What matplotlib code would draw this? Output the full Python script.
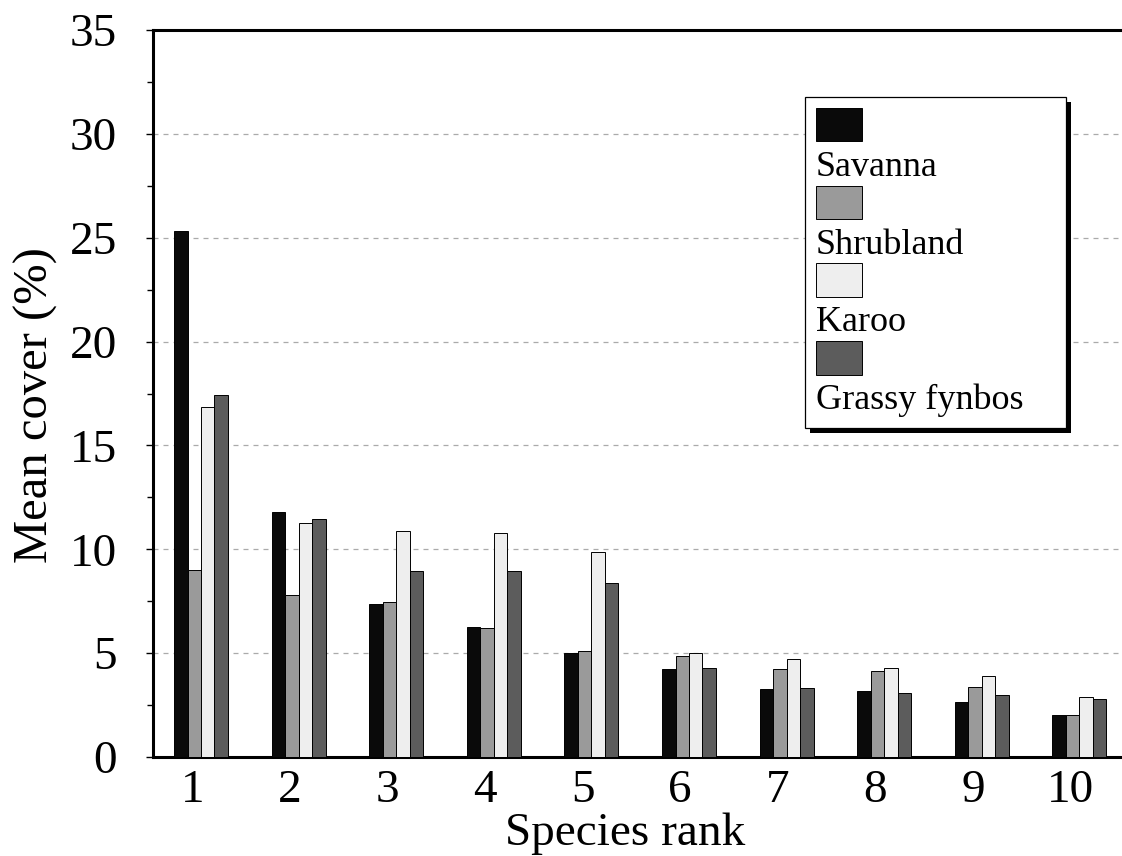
import numpy as np
import matplotlib
matplotlib.use("Agg")
import matplotlib.pyplot as plt
from matplotlib.patches import Rectangle
from matplotlib.transforms import IdentityTransform

plt.rcParams['font.family'] = ['Liberation Serif', 'DejaVu Serif']

# mean cover (%) of the 10 top-ranked species in each vegetation type
ranks = np.arange(1, 11)
savanna = [25.3, 11.8, 7.35, 6.25, 5.0, 4.25, 3.25, 3.2, 2.65, 2.0]
shrubland = [9.0, 7.8, 7.45, 6.2, 5.1, 4.85, 4.25, 4.15, 3.35, 2.0]
karoo = [16.85, 11.25, 10.9, 10.8, 9.85, 5.0, 4.7, 4.28, 3.9, 2.9]
grassy_fynbos = [17.45, 11.45, 8.95, 8.95, 8.4, 4.3, 3.3, 3.08, 3.0, 2.78]

series = [savanna, shrubland, karoo, grassy_fynbos]
names = ['Savanna', 'Shrubland', 'Karoo', 'Grassy fynbos']
colors = ['#0a0a0a', '#9a9a9a', '#eeeeee', '#5c5c5c']

fig = plt.figure(figsize=(11.22, 8.56), dpi=100)
ax = fig.add_axes([153 / 1122, 99 / 856, 980 / 1122, 727 / 856])

w = 0.138
offsets = (np.arange(4) - 1.5) * w
bars = []
for vals, off, c in zip(series, offsets, colors):
    b = ax.bar(ranks + off, vals, width=w, color=c, edgecolor='black',
               linewidth=0.7, zorder=3)
    bars.append(b)

ax.set_xlim(0.508, 10.549)
ax.set_ylim(0, 35)
ax.set_yticks(np.arange(0, 36, 5))
ax.set_yticks(np.arange(2.5, 35, 5), minor=True)
ax.set_xticks(ranks - 0.09)
ax.set_xticklabels([str(r) for r in ranks])
ax.tick_params(axis='x', length=0, pad=9, labelsize=34)
ax.tick_params(axis='y', which='major', direction='out', length=5, width=1,
               pad=21, labelsize=34)
ax.tick_params(axis='y', which='minor', direction='out', length=4, width=1)

ax.yaxis.grid(True, linestyle=(0, (4, 4)), color='#aaaaaa', linewidth=0.9,
              zorder=0)
ax.set_axisbelow(True)

for s in ['left', 'top', 'bottom']:
    ax.spines[s].set_linewidth(2.2)
ax.spines['right'].set_visible(False)

ax.set_xlabel('Species rank', fontsize=34)
ax.xaxis.set_label_coords(0.482, -0.077)
ax.set_ylabel('Mean cover (%)', fontsize=35)
ax.yaxis.set_label_coords(-0.097, 0.484)

# legend: swatch on one row, its name on the row below
handles, labels = [], []
for b, n in zip(bars, names):
    handles.append(b[0])
    labels.append('')
    handles.append(Rectangle((0, 0), 1, 1, visible=False))
    labels.append(n)

leg = ax.legend(handles, labels, loc='upper left',
                bbox_to_anchor=(805 / 1122, 1 - 425 / 856, 261 / 1122, 328 / 856),
                bbox_transform=fig.transFigure, mode='expand',
                borderaxespad=0, fontsize=26, handlelength=1.28,
                handleheight=1.05, handletextpad=-1.28, labelspacing=0.05,
                borderpad=0.3, fancybox=False, framealpha=1,
                edgecolor='black')
leg.get_frame().set_linewidth(0.9)
leg.set_zorder(5)

fig.canvas.draw()
bb = leg.get_window_extent()
ax.add_patch(Rectangle((bb.x0 + 5, bb.y0 - 5), bb.width, bb.height,
                       transform=IdentityTransform(), facecolor='black',
                       edgecolor='none', zorder=4.9, clip_on=False))

fig.savefig('out.png', dpi=100)
